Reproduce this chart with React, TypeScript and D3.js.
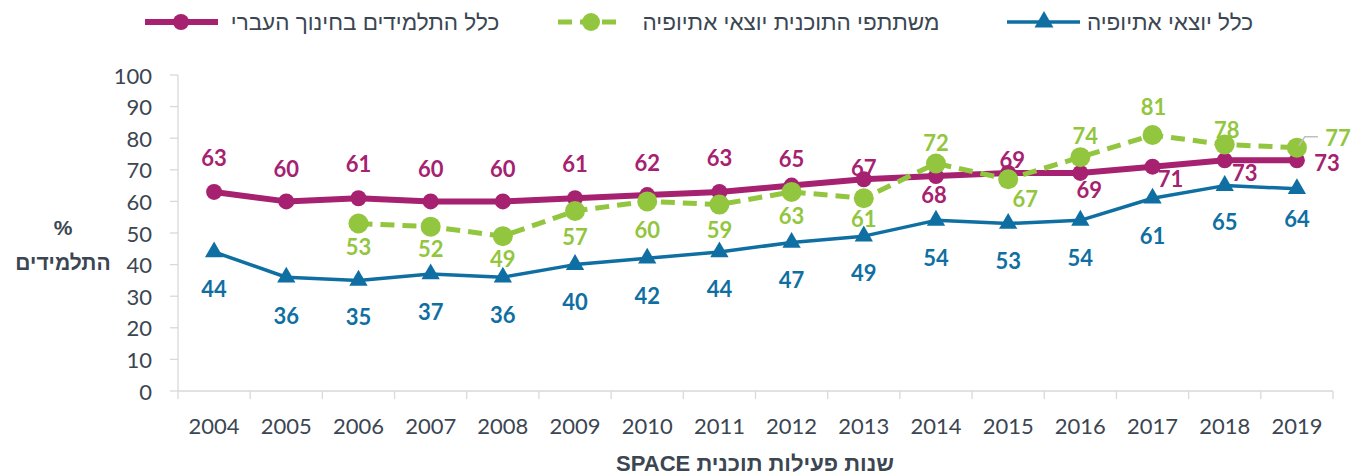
import React from 'react';
import * as d3 from 'd3';

const years = ['2004','2005','2006','2007','2008','2009','2010','2011','2012','2013','2014','2015','2016','2017','2018','2019'];
const allStudents: number[] = [63,60,61,60,60,61,62,63,65,67,68,69,69,71,73,73];
const programParticipants: (number | null)[] = [null,null,53,52,49,57,60,59,63,61,72,67,74,81,78,77];
const allEthiopian: number[] = [44,36,35,37,36,40,42,44,47,49,54,53,54,61,65,64];
const yTicks = [0,10,20,30,40,50,60,70,80,90,100];

const nameAll = 'כלל התלמידים בחינוך העברי';
const nameProgram = 'משתתפי התוכנית יוצאי אתיופיה';
const nameEthiopian = 'כלל יוצאי אתיופיה';
const yTitle1 = '%';
const yTitle2 = 'התלמידים';
const xTitle = 'שנות פעילות תוכנית SPACE';

// data label offsets (px) relative to the point
const allLabelOffsets = [[0,-34],[0,-33],[0,-35],[0,-33],[0,-33],[0,-35],[0,-33],[0,-34],[0,-27],[0,-12],[-2,18],[4,-13],[9,17],[18,12],[20,12],[30,2]];
const programLabelOffsets = [[0,0],[0,0],[0,23],[0,22],[0,22],[0,26],[0,28],[0,25],[0,24],[0,20],[0,-21],[17,19],[5,-22],[1,-29],[2,-15],[41,-10]];
const ethiopianLabelOffsets = [[0,37],[0,38],[0,36],[0,37],[0,37],[0,37],[0,37],[0,37],[0,37],[0,36],[0,37],[0,37],[0,37],[0,37],[0,36],[0,30]];

const W = 1354, H = 474;
const MAGENTA = '#A6216F';
const GREEN = '#93C63F';
const BLUE = '#0F6FA2';
const TEXT = '#3B4652';
const AXIS = '#D9D9D9';
const NUM_FONT = "Lato, 'Open Sans', sans-serif";
const HEB_FONT = "'Liberation Sans', 'DejaVu Sans', sans-serif";

export default function App() {
  const x = d3.scaleBand<string>().domain(years).range([178, 1333]).padding(0);
  const y = d3.scaleLinear().domain([0, 100]).range([391, 75]);
  const cx = (i: number) => (x(years[i]) as number) + x.bandwidth() / 2;

  const line = d3.line<number | null>()
    .defined(d => d != null)
    .x((_, i) => cx(i))
    .y(d => y(d as number));

  const tri = d3.symbol().type(d3.symbolTriangle).size(145)() as string;
  const triLegend = d3.symbol().type(d3.symbolTriangle).size(155)() as string;

  const boundaries = years.map(yr => x(yr) as number).concat([x.range()[1]]);

  return (
    <svg width={W} height={H} style={{ position: 'absolute', left: 0, top: 0, background: '#fff' }}>
      {/* legend */}
      <g>
        <line x1={145} x2={218} y1={22} y2={22} stroke={MAGENTA} strokeWidth={6} />
        <circle cx={181} cy={22} r={8} fill={MAGENTA} />
        <text x={365} y={22} dominantBaseline="central" textAnchor="middle" direction="rtl" fontFamily={HEB_FONT} fontSize={22.5} fill={TEXT}>{nameAll}</text>

        <line x1={558} x2={624} y1={22} y2={22} stroke={GREEN} strokeWidth={5} strokeDasharray="14,8" />
        <circle cx={591} cy={22} r={9} fill={GREEN} />
        <text x={791} y={22} dominantBaseline="central" textAnchor="middle" direction="rtl" fontFamily={HEB_FONT} fontSize={22.5} fill={TEXT}>{nameProgram}</text>

        <line x1={1007} x2={1080} y1={22} y2={22} stroke={BLUE} strokeWidth={3.5} />
        <path d={triLegend} transform={`translate(1044,22)`} fill={BLUE} />
        <text x={1170} y={22} dominantBaseline="central" textAnchor="middle" direction="rtl" fontFamily={HEB_FONT} fontSize={22.5} fill={TEXT}>{nameEthiopian}</text>
      </g>

      {/* axes */}
      <line x1={178} x2={178} y1={y(100)} y2={y(0)} stroke={AXIS} strokeWidth={1.3} />
      <line x1={178} x2={1333} y1={y(0)} y2={y(0)} stroke={AXIS} strokeWidth={1.3} />
      {yTicks.map(t => (
        <g key={t}>
          <line x1={170} x2={178} y1={y(t)} y2={y(t)} stroke={AXIS} strokeWidth={1.3} />
          <text x={152} y={y(t)} textAnchor="end" dominantBaseline="central" fontFamily={NUM_FONT} fontSize={22} fill={TEXT}>{t}</text>
        </g>
      ))}
      {boundaries.map((b, i) => (
        <line key={i} x1={b} x2={b} y1={y(0)} y2={y(0) + 8} stroke={AXIS} strokeWidth={1.3} />
      ))}
      {years.map((yr, i) => (
        <text key={yr} x={cx(i)} y={425} textAnchor="middle" dominantBaseline="central" fontFamily={NUM_FONT} fontSize={22} fill={TEXT}>{yr}</text>
      ))}

      {/* axis titles */}
      <text x={63} y={227} textAnchor="middle" dominantBaseline="central" fontFamily={HEB_FONT} fontWeight="bold" fontSize={21} fill={TEXT}>{yTitle1}</text>
      <text x={63} y={262} textAnchor="middle" dominantBaseline="central" direction="rtl" fontFamily={HEB_FONT} fontWeight="bold" fontSize={21} fill={TEXT}>{yTitle2}</text>
      <text x={755} y={463} textAnchor="middle" dominantBaseline="central" direction="rtl" fontFamily={HEB_FONT} fontWeight="bold" fontSize={22} fill={TEXT}>{xTitle}</text>

      {/* blue series */}
      <path d={line(allEthiopian) as string} fill="none" stroke={BLUE} strokeWidth={3.5} strokeLinejoin="round" />
      {allEthiopian.map((v, i) => (
        <path key={i} d={tri} transform={`translate(${cx(i)},${y(v)})`} fill={BLUE} />
      ))}

      {/* magenta series */}
      <path d={line(allStudents) as string} fill="none" stroke={MAGENTA} strokeWidth={6} strokeLinejoin="round" />
      {allStudents.map((v, i) => (
        <circle key={i} cx={cx(i)} cy={y(v)} r={8} fill={MAGENTA} />
      ))}

      {/* green series */}
      <path d={line(programParticipants) as string} fill="none" stroke={GREEN} strokeWidth={5} strokeDasharray="14,8" />
      {programParticipants.map((v, i) => v == null ? null : (
        <circle key={i} cx={cx(i)} cy={y(v)} r={10} fill={GREEN} />
      ))}

      {/* leader line for last green label */}
      <polyline
        points={`${cx(15) + 2},${y(programParticipants[15] as number) - 2} ${cx(15) + 8},${y(programParticipants[15] as number) - 11} ${cx(15) + 21},${y(programParticipants[15] as number) - 11}`}
        fill="none" stroke="#BFBFBF" strokeWidth={1.5} />

      {/* labels */}
      {allEthiopian.map((v, i) => (
        <text key={'b' + i} x={cx(i) + ethiopianLabelOffsets[i][0]} y={y(v) + ethiopianLabelOffsets[i][1]} textAnchor="middle" dominantBaseline="central" fontFamily={NUM_FONT} fontWeight="bold" fontSize={22} fill={BLUE}>{v}</text>
      ))}
      {allStudents.map((v, i) => (
        <text key={'m' + i} x={cx(i) + allLabelOffsets[i][0]} y={y(v) + allLabelOffsets[i][1]} textAnchor="middle" dominantBaseline="central" fontFamily={NUM_FONT} fontWeight="bold" fontSize={22} fill={MAGENTA}>{v}</text>
      ))}
      {programParticipants.map((v, i) => v == null ? null : (
        <text key={'g' + i} x={cx(i) + programLabelOffsets[i][0]} y={y(v) + programLabelOffsets[i][1]} textAnchor="middle" dominantBaseline="central" fontFamily={NUM_FONT} fontWeight="bold" fontSize={22} fill={GREEN}>{v}</text>
      ))}
    </svg>
  );
}
